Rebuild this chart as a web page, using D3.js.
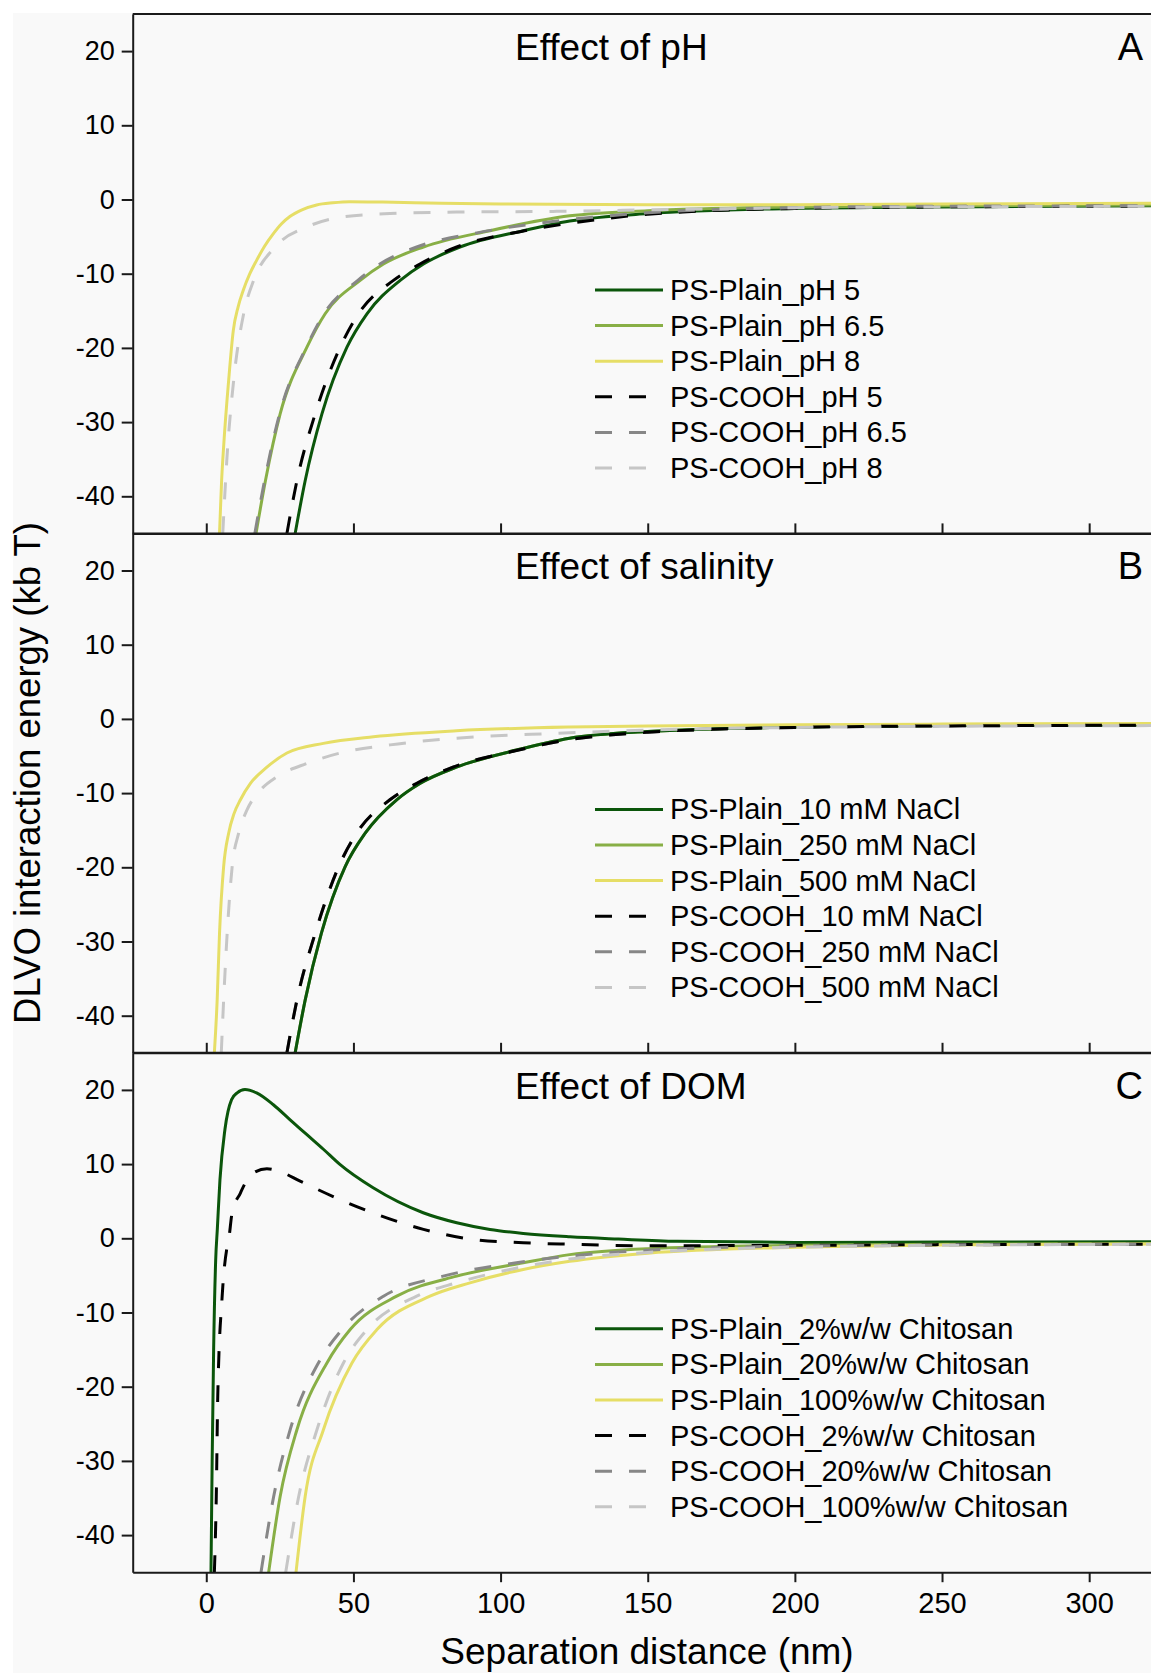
<!DOCTYPE html>
<html lang="en">
<head>
<meta charset="UTF-8">
<title>DLVO interaction energy</title>
<style>
  body { margin: 0; background: #fff; }
  svg { display: block; font-family: "Liberation Sans", Arial, sans-serif; }
  .axis path, .axis line { stroke: #1a1a1a; stroke-width: 2; fill: none; }
  .axis text { font-family: "Liberation Sans", Arial, sans-serif; fill: #000; }
</style>
</head>
<body>
<div id="chart"></div>
<script src="https://cdn.jsdelivr.net/npm/d3@7/dist/d3.min.js"></script>
<script>
  // ticks and text
  const xTicks = [0, 50, 100, 150, 200, 250, 300]
  const yTicks = [-40, -30, -20, -10, 0, 10, 20]
  const panelTitles = ['Effect of pH', 'Effect of salinity', 'Effect of DOM']
  const panelLetters = ['A', 'B', 'C']
  const labelsA = ['PS-Plain_pH 5', 'PS-Plain_pH 6.5', 'PS-Plain_pH 8', 'PS-COOH_pH 5', 'PS-COOH_pH 6.5', 'PS-COOH_pH 8']
  const labelsB = ['PS-Plain_10 mM NaCl', 'PS-Plain_250 mM NaCl', 'PS-Plain_500 mM NaCl', 'PS-COOH_10 mM NaCl', 'PS-COOH_250 mM NaCl', 'PS-COOH_500 mM NaCl']
  const labelsC = ['PS-Plain_2%w/w Chitosan', 'PS-Plain_20%w/w Chitosan', 'PS-Plain_100%w/w Chitosan', 'PS-COOH_2%w/w Chitosan', 'PS-COOH_20%w/w Chitosan', 'PS-COOH_100%w/w Chitosan']

  // panel A: [distance nm, energy kbT]
  const phPlain5 = [[30.2, -45], [33.6, -37.9], [39.3, -28.9], [47.8, -19.9], [54.6, -15.4], [65.9, -10.9], [73.8, -8.7], [86.2, -6.4], [107.7, -4.2], [123.5, -2.9], [150, -1.9], [200, -1.2], [250, -1.0], [325, -0.85]]
  const phPlain65 = [[16.9, -45], [20.1, -37.9], [25.1, -28.9], [34.2, -19.9], [40.4, -15.4], [52.3, -10.9], [60.2, -8.7], [73.8, -6.4], [96.4, -4.2], [123.5, -2.2], [150, -1.5], [200, -1.0], [250, -0.85], [325, -0.75]]
  const phPlain8 = [[4.5, -45], [5.2, -38], [5.9, -33.3], [7.6, -24.4], [9.2, -17.6], [10.8, -14.5], [12.6, -12.2], [14.8, -10], [17.1, -8.2], [19.8, -6.3], [22.8, -4.6], [25.5, -3.3], [28.4, -2.3], [32.5, -1.4], [37.5, -0.74], [43, -0.45], [48.8, -0.3], [60, -0.35], [80, -0.5], [100, -0.6], [150, -0.7], [200, -0.7], [250, -0.6], [325, -0.5]]
  const phCooh5 = [[27.4, -45], [30.8, -37.9], [37, -28.9], [45.5, -19.9], [51.7, -15.4], [63.6, -10.9], [72.6, -8.7], [85.1, -6.4], [107, -4.3], [123.5, -3.2], [150, -2.0], [200, -1.2], [250, -1.0], [325, -0.9]]
  const phCooh65 = [[16.5, -45], [19.8, -37.9], [24.9, -28.9], [34, -19.9], [40, -15.4], [51.5, -10.9], [59, -8.7], [71.5, -6.4], [92, -4.5], [123.5, -2.7], [150, -1.8], [200, -1.1], [250, -0.9], [325, -0.85]]
  const phCooh8 = [[5.6, -45], [7, -35], [9.3, -24.4], [12.7, -15.4], [16.1, -10.9], [23.4, -6.4], [34.2, -3.7], [45.5, -2.4], [62.4, -1.9], [85, -1.7], [119, -1.6], [150, -1.4], [200, -1.1], [250, -1.0], [325, -0.9]]

  // panel B
  const naPlain10 = [[30.2, -45], [33.6, -37.9], [39.1, -28.9], [47.2, -19.9], [54, -15.4], [64.7, -10.9], [72.6, -8.7], [85, -6.5], [105.4, -4.2], [123.5, -2.6], [150, -1.7], [200, -1.1], [250, -0.9], [325, -0.8]]
  const naPlain250 = [[30.2, -45], [33.6, -37.9], [39.1, -28.9], [47.2, -19.9], [54, -15.4], [64.7, -10.9], [72.6, -8.7], [85, -6.5], [105.4, -4.2], [123.5, -2.6], [150, -1.7], [200, -1.1], [250, -0.9], [325, -0.8]]
  const naPlain500 = [[2.75, -45], [3.7, -37.9], [4.5, -28.9], [5.9, -19.9], [7.6, -15.4], [9.4, -12.8], [11.6, -10.9], [15, -8.7], [20.6, -6.5], [27.4, -4.6], [39.8, -3.3], [56.8, -2.4], [85, -1.6], [123.5, -1.1], [150, -0.95], [200, -0.8], [250, -0.7], [325, -0.6]]
  const naCooh10 = [[27.4, -45], [30.8, -37.9], [37, -28.9], [45, -19.9], [51.1, -15.4], [62.4, -10.9], [71.4, -8.7], [83.8, -6.5], [105, -4.3], [123.5, -2.8], [150, -1.8], [200, -1.15], [250, -0.95], [325, -0.85]]
  const naCooh250 = [[27.4, -45], [30.8, -37.9], [37, -28.9], [45, -19.9], [51.1, -15.4], [62.4, -10.9], [71.4, -8.7], [83.8, -6.5], [105, -4.3], [123.5, -2.8], [150, -1.8], [200, -1.15], [250, -0.95], [325, -0.85]]
  const naCooh500 = [[5.1, -45], [5.9, -37.9], [7.1, -28.9], [8.8, -19.9], [11, -15.4], [13.8, -12.3], [18.4, -9.6], [24, -7.8], [34.2, -6.0], [45.5, -4.6], [62.5, -3.5], [85, -2.6], [119, -1.95], [150, -1.5], [200, -1.15], [250, -1.0], [325, -0.9]]

  // panel C
  const domPlain2 = [[1.6, -45], [2.0, -30], [2.5, -15], [3.2, -2.9], [3.75, 1.2], [4.65, 7.9], [6.35, 14.7], [8.6, 18.7], [10.5, 19.6], [13.15, 20.05], [17.1, 19.6], [22.8, 18.0], [28.4, 16.0], [34.1, 14.0], [39.8, 12.0], [45.4, 9.95], [56.7, 6.8], [73.7, 3.44], [85.1, 2.09], [96.4, 1.19], [107.7, 0.65], [123.6, 0.2], [140, -0.1], [160, -0.4], [200, -0.55], [250, -0.5], [325, -0.45]]
  const domPlain20 = [[21.2, -45], [25.1, -34.8], [30.8, -25.8], [41, -16.8], [48.9, -12.3], [64.7, -7.8], [85.1, -5.1], [107.7, -3.3], [123.5, -2.2], [150, -1.4], [200, -0.95], [250, -0.8], [325, -0.7]]
  const domPlain100 = [[30.5, -45], [33.6, -34.8], [39.8, -25.8], [49.5, -16.8], [58, -12.3], [76, -7.8], [89.6, -6.0], [107.7, -4.2], [123.5, -3.1], [150, -2.0], [200, -1.2], [250, -0.9], [325, -0.75]]
  const domCooh2 = [[2.75, -45], [3.4, -34.8], [3.9, -21.3], [5.4, -7.8], [7.1, -1.1], [7.6, -0.2], [8.8, 3.5], [11.6, 6.1], [13.3, 7.5], [16, 8.8], [20.6, 9.37], [25, 9.0], [31.9, 7.7], [45.5, 5.2], [56.8, 3.4], [73.8, 1.2], [90.7, -0.16], [107.7, -0.6], [123.5, -0.8], [150, -1.0], [200, -0.95], [250, -0.85], [325, -0.8]]
  const domCooh20 = [[18.6, -45], [22.9, -34.8], [28.5, -25.8], [38.1, -16.8], [46.1, -12.3], [60.2, -7.8], [80.5, -5.1], [105.4, -3.3], [123.5, -2.4], [150, -1.6], [200, -1.05], [250, -0.9], [325, -0.8]]
  const domCooh100 = [[27, -45], [31.4, -34.8], [37.6, -25.8], [46.6, -16.8], [54.6, -12.3], [71.5, -7.8], [85, -6.0], [103.2, -4.2], [123.5, -2.8], [150, -1.9], [200, -1.2], [250, -0.95], [325, -0.8]]

  // 样式 (same for every panel, legend order)
  const lineColors = ['#0b560b', '#88af46', '#e6de66', '#000000', '#878787', '#c6c6c6']
  const lineDashed = [false, false, false, true, true, true]

  const panels = [
    { title: panelTitles[0], letter: panelLetters[0], labels: labelsA, series: [phPlain5, phPlain65, phPlain8, phCooh5, phCooh65, phCooh8], order: [0, 1, 2, 3, 4, 5] },
    { title: panelTitles[1], letter: panelLetters[1], labels: labelsB, series: [naPlain10, naPlain250, naPlain500, naCooh10, naCooh250, naCooh500], order: [1, 4, 0, 2, 3, 5] },
    { title: panelTitles[2], letter: panelLetters[2], labels: labelsC, series: [domPlain2, domPlain20, domPlain100, domCooh2, domCooh20, domCooh100], order: [0, 1, 2, 3, 4, 5] }
  ]

  let width = 1151
  let height = 1673
  let plotL = 132.7
  let plotTop = 14
  let panelH = 519.4
  let pxPerNm = 2.943

  let svg = d3.select('#chart').append('svg').attr('width', width).attr('height', height)

  svg.append('rect')
    .attr('x', 13).attr('y', 13)
    .attr('width', width - 13).attr('height', height - 13)
    .attr('fill', '#f9f9f9')

  let xScale = d3.scaleLinear().domain([-25, 325]).range([plotL, plotL + 350 * pxPerNm])

  panels.forEach((p, i) => {
    let top = plotTop + i * panelH
    let bottom = top + panelH
    let yScale = d3.scaleLinear().domain([-45, 25]).range([bottom, top])
    let g = svg.append('g')

    g.append('clipPath').attr('id', 'clip' + i)
      .append('rect')
      .attr('x', plotL).attr('y', top)
      .attr('width', width - plotL).attr('height', panelH)

    // curves
    let line = d3.line()
      .x(d => xScale(d[0]))
      .y(d => yScale(d[1]))
      .curve(d3.curveMonotoneX)

    let curves = g.append('g').attr('clip-path', 'url(#clip' + i + ')')
    p.order.forEach(k => {
      curves.append('path')
        .attr('d', line(p.series[k]))
        .attr('fill', 'none')
        .attr('stroke', lineColors[k])
        .attr('stroke-width', 3)
        .attr('stroke-dasharray', lineDashed[k] ? '17,17' : null)
    })

    // y axis
    let yAxis = d3.axisLeft(yScale)
      .tickValues(yTicks)
      .tickSize(11)
      .tickSizeOuter(0)
      .tickPadding(7)
      .tickFormat(d => String(d))
    g.append('g').attr('class', 'axis')
      .attr('transform', 'translate(' + plotL + ',0)')
      .call(yAxis)
      .selectAll('text').style('font-size', '27px')

    // top border
    g.append('line')
      .attr('x1', plotL).attr('x2', width)
      .attr('y1', top).attr('y2', top)
      .attr('stroke', '#1a1a1a').attr('stroke-width', 2)

    // x axis
    let gx = g.append('g').attr('class', 'axis')
      .attr('transform', 'translate(0,' + bottom + ')')
    if (i < 2) {
      gx.call(d3.axisTop(xScale).tickValues(xTicks).tickSize(10).tickSizeOuter(0).tickFormat(''))
    } else {
      gx.call(d3.axisBottom(xScale).tickValues(xTicks).tickSize(10).tickSizeOuter(0).tickPadding(10).tickFormat(d => String(d)))
      gx.selectAll('text').style('font-size', '29px')
    }

    // titles
    g.append('text')
      .attr('x', 515).attr('y', top + 46)
      .style('font-size', '37px')
      .text(p.title)
    g.append('text')
      .attr('x', 1143).attr('y', top + 46)
      .attr('text-anchor', 'end')
      .style('font-size', '38px')
      .text(p.letter)

    // legend
    let lg = g.append('g')
    p.labels.forEach((lab, k) => {
      let ly = top + 276 + k * 35.6
      lg.append('line')
        .attr('x1', 595).attr('x2', 663)
        .attr('y1', ly).attr('y2', ly)
        .attr('stroke', lineColors[k])
        .attr('stroke-width', 3)
        .attr('stroke-dasharray', lineDashed[k] ? '17,17' : null)
      lg.append('text')
        .attr('x', 670).attr('y', ly + 10)
        .style('font-size', '29px')
        .text(lab)
    })
  })

  // axis titles
  svg.append('text')
    .attr('x', 647).attr('y', 1664)
    .attr('text-anchor', 'middle')
    .style('font-size', '37px')
    .text('Separation distance (nm)')

  svg.append('text')
    .attr('transform', 'translate(40,773) rotate(-90)')
    .attr('text-anchor', 'middle')
    .style('font-size', '36.5px')
    .text('DLVO interaction energy (kb T)')
</script>
</body>
</html>
